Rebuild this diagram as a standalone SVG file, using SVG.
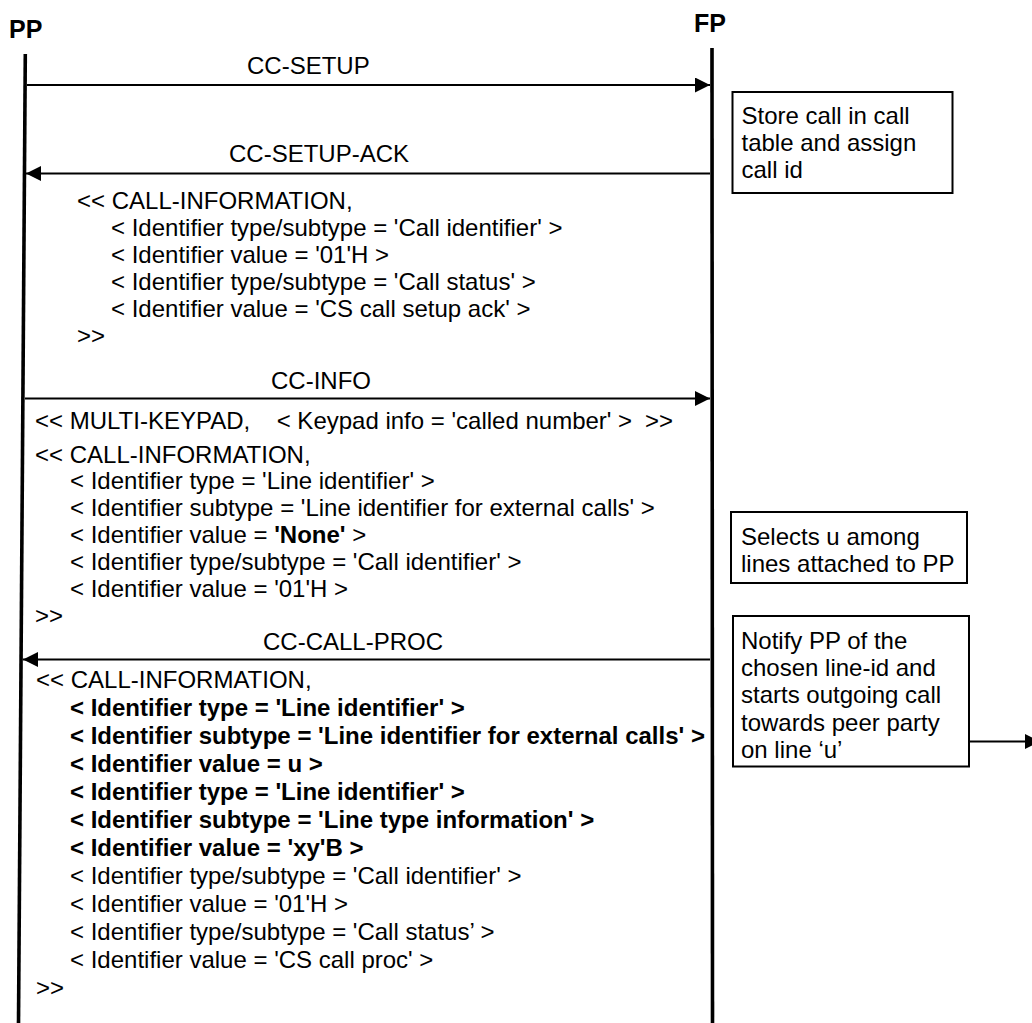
<svg xmlns="http://www.w3.org/2000/svg" width="1032" height="1023" viewBox="0 0 1032 1023">
<style>
text{font-family:"Liberation Sans",Arial,sans-serif;font-size:24px;fill:#000}
.lbl{font-weight:bold;font-size:25px}
.b{font-weight:bold}
.life{stroke:#000;stroke-width:3.6;fill:none}
.box{fill:#fff;stroke:#000;stroke-width:2}
.msg{stroke:#000;stroke-width:2;fill:none;marker-end:url(#ah)}
</style>
<defs>
<marker id="ah" viewBox="0 0 15 15" refX="15" refY="7.5" markerWidth="15" markerHeight="15" markerUnits="userSpaceOnUse" orient="auto">
<path d="M0,0 L15,7.5 L0,15 Z" fill="#000"/>
</marker>
</defs>
<rect width="1032" height="1023" fill="#fff"/>
<g id="PP">
<text class="lbl" x="9" y="38">PP</text>
<line class="life" x1="25.3" y1="54" x2="18.5" y2="1023"/>
</g>
<g id="FP">
<text class="lbl" x="694" y="31.5">FP</text>
<line class="life" x1="712" y1="48" x2="712.5" y2="1023"/>
</g>
<g id="box-store">
<rect class="box" x="732.5" y="92" width="220" height="101"/>
<text x="741.5" y="124">Store call in call</text>
<text x="741.5" y="151">table and assign</text>
<text x="741.5" y="178">call id</text>
</g>
<g id="box-select">
<rect class="box" x="731" y="512" width="236" height="71"/>
<text x="741" y="545">Selects u among</text>
<text x="741" y="571.5">lines attached to PP</text>
</g>
<g id="box-notify">
<rect class="box" x="733" y="616" width="236" height="150.5"/>
<text x="741" y="648.5">Notify PP of the</text>
<text x="741" y="676">chosen line-id and</text>
<text x="741" y="703.3">starts outgoing call</text>
<text x="741" y="730.6">towards peer party</text>
<text x="741" y="757.5">on line ‘u’</text>
</g>
<g id="connectors">
<line class="msg" x1="27" y1="85" x2="710" y2="85"/>
<line class="msg" x1="710" y1="173.5" x2="26" y2="173.5"/>
<line class="msg" x1="25" y1="398.5" x2="710" y2="398.5"/>
<line class="msg" x1="710" y1="659.5" x2="23" y2="659.5"/>
<line class="msg" x1="969" y1="741.5" x2="1040" y2="741.5"/>
</g>
<g id="labels">
<text x="247" y="74">CC-SETUP</text>
<text x="229" y="162">CC-SETUP-ACK</text>
<text x="271" y="388.5">CC-INFO</text>
<text x="263" y="649.5">CC-CALL-PROC</text>
</g>
<g id="msg-setup-ack">
<text x="77" y="208.5">&lt;&lt; CALL-INFORMATION,</text>
<text x="111" y="235.5">&lt; Identifier type/subtype = 'Call identifier' &gt;</text>
<text x="111" y="262.5">&lt; Identifier value = '01'H &gt;</text>
<text x="111" y="289.5">&lt; Identifier type/subtype = 'Call status' &gt;</text>
<text x="111" y="316.5">&lt; Identifier value = 'CS call setup ack' &gt;</text>
<text x="77" y="343.5">&gt;&gt;</text>
</g>
<g id="msg-info">
<text x="35" y="428.5">&lt;&lt; MULTI-KEYPAD,</text>
<text x="276.7" y="428.5">&lt; Keypad info = 'called number' &gt;</text>
<text x="645" y="428.5">&gt;&gt;</text>
<text x="35" y="462.7">&lt;&lt; CALL-INFORMATION,</text>
<text x="70" y="489">&lt; Identifier type = 'Line identifier' &gt;</text>
<text x="70" y="516">&lt; Identifier subtype = 'Line identifier for external calls' &gt;</text>
<text x="70" y="543">&lt; Identifier value = <tspan class="b">'None'</tspan> &gt;</text>
<text x="70" y="570">&lt; Identifier type/subtype = 'Call identifier' &gt;</text>
<text x="70" y="597">&lt; Identifier value = '01'H &gt;</text>
<text x="35" y="624">&gt;&gt;</text>
</g>
<g id="msg-call-proc">
<text x="36" y="688">&lt;&lt; CALL-INFORMATION,</text>
<text class="b" x="70" y="716">&lt; Identifier type = 'Line identifier' &gt;</text>
<text class="b" x="70" y="744">&lt; Identifier subtype = 'Line identifier for external calls' &gt;</text>
<text class="b" x="70" y="772">&lt; Identifier value = u &gt;</text>
<text class="b" x="70" y="800">&lt; Identifier type = 'Line identifier' &gt;</text>
<text class="b" x="70" y="828">&lt; Identifier subtype = 'Line type information' &gt;</text>
<text class="b" x="70" y="856">&lt; Identifier value = 'xy'B &gt;</text>
<text x="70" y="884">&lt; Identifier type/subtype = 'Call identifier' &gt;</text>
<text x="70" y="912">&lt; Identifier value = '01'H &gt;</text>
<text x="70" y="940">&lt; Identifier type/subtype = 'Call status’ &gt;</text>
<text x="70" y="968">&lt; Identifier value = 'CS call proc' &gt;</text>
<text x="36" y="996">&gt;&gt;</text>
</g>
</svg>
